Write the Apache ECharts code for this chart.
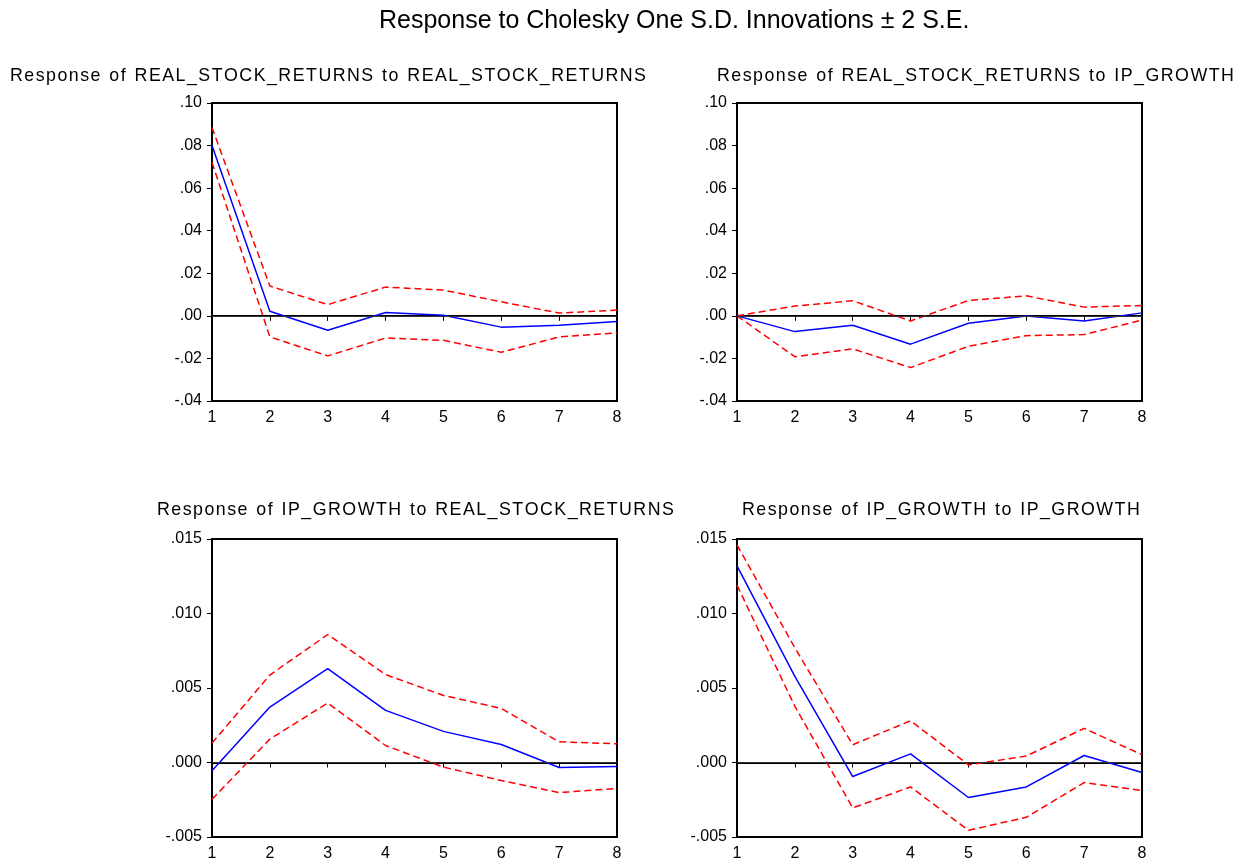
<!DOCTYPE html>
<html>
<head>
<meta charset="utf-8">
<title>Impulse responses</title>
<script src="https://cdn.jsdelivr.net/npm/echarts@6/dist/echarts.min.js"></script>
<style>
  html, body { margin: 0; padding: 0; background: #fff; }
  #chart { width: 1246px; height: 865px; }
</style>
</head>
<body>
<div id="chart"></div>
<script>
// Forecast horizon (periods)
const periods = ['1', '2', '3', '4', '5', '6', '7', '8'];

// Response of REAL_STOCK_RETURNS to REAL_STOCK_RETURNS
const stockToStock      = [0.0800, 0.0022, -0.0068, 0.0016, 0.0003, -0.0053, -0.0044, -0.0027];
const stockToStockUpper = [0.0885, 0.0140, 0.0053, 0.0135, 0.0121, 0.0066, 0.0013, 0.0027];
const stockToStockLower = [0.0721, -0.0099, -0.0188, -0.0104, -0.0115, -0.0171, -0.0099, -0.0080];

// Response of REAL_STOCK_RETURNS to IP_GROWTH
const stockToIp      = [0.0000, -0.0074, -0.0044, -0.0133, -0.0035, -0.0001, -0.0024, 0.0014];
const stockToIpUpper = [0.0000, 0.0046, 0.0071, -0.0024, 0.0072, 0.0094, 0.0041, 0.0049];
const stockToIpLower = [0.0000, -0.0192, -0.0155, -0.0243, -0.0143, -0.0093, -0.0088, -0.0020];

// Response of IP_GROWTH to REAL_STOCK_RETURNS
const ipToStock      = [-0.00056, 0.00372, 0.00630, 0.00350, 0.00209, 0.00121, -0.00034, -0.00027];
const ipToStockUpper = [0.00130, 0.00587, 0.00859, 0.00590, 0.00450, 0.00363, 0.00139, 0.00126];
const ipToStockLower = [-0.00247, 0.00157, 0.00399, 0.00114, -0.00031, -0.00121, -0.00202, -0.00175];

// Response of IP_GROWTH to IP_GROWTH
const ipToIp      = [0.01320, 0.00578, -0.00094, 0.00058, -0.00235, -0.00164, 0.00047, -0.00067];
const ipToIpUpper = [0.01460, 0.00770, 0.00119, 0.00280, -0.00016, 0.00043, 0.00229, 0.00052];
const ipToIpLower = [0.01190, 0.00377, -0.00305, -0.00164, -0.00455, -0.00368, -0.00135, -0.00188];

const mainTitle = 'Response to Cholesky One S.D. Innovations \u00B1 2 S.E.';
const panelTitles = [
  'Response of REAL_STOCK_RETURNS to REAL_STOCK_RETURNS',
  'Response of REAL_STOCK_RETURNS to IP_GROWTH',
  'Response of IP_GROWTH to REAL_STOCK_RETURNS',
  'Response of IP_GROWTH to IP_GROWTH'
];

const FONT = '"Liberation Sans", Arial, sans-serif';

// Panel layout: grid boxes and title anchors
const panels = [
  { grid: { left: 212, top: 103, width: 405, height: 298 }, titleX: 5,   titleY: 62,
    data: [stockToStock, stockToStockUpper, stockToStockLower], min: -0.04, max: 0.10, step: 0.02, dec: 2 },
  { grid: { left: 737, top: 103, width: 405, height: 298 }, titleX: 712, titleY: 62,
    data: [stockToIp, stockToIpUpper, stockToIpLower], min: -0.04, max: 0.10, step: 0.02, dec: 2 },
  { grid: { left: 212, top: 539, width: 405, height: 298 }, titleX: 152, titleY: 496,
    data: [ipToStock, ipToStockUpper, ipToStockLower], min: -0.005, max: 0.015, step: 0.005, dec: 3 },
  { grid: { left: 737, top: 539, width: 405, height: 298 }, titleX: 737, titleY: 496,
    data: [ipToIp, ipToIpUpper, ipToIpLower], min: -0.005, max: 0.015, step: 0.005, dec: 3 }
];

// Format ticks without the leading zero: .02, -.04, .005
function fmt(v, dec) {
  let s = Math.abs(v) < 1e-12 ? (0).toFixed(dec) : v.toFixed(dec);
  return s.replace(/^(-?)0\./, '$1.');
}

// Loosely tracked title text: thin spaces between letters, wider word gaps
function track(s) {
  return s.split(' ').map(w => w.split('').join('\u200A')).join('\u2002');
}

const titles = [{
  text: mainTitle, left: 374, top: 4,
  textStyle: { fontFamily: FONT, fontSize: 25, fontWeight: 'normal', color: '#000' }
}];
const grids = [], xAxes = [], yAxes = [], series = [];

panels.forEach((p, i) => {
  titles.push({
    text: track(panelTitles[i]), left: p.titleX, top: p.titleY,
    textStyle: { fontFamily: FONT, fontSize: 17.8, fontWeight: 'normal', color: '#000' }
  });
  grids.push(Object.assign({ show: true, borderColor: '#000', borderWidth: 2, backgroundColor: '#fff' }, p.grid));
  xAxes.push({
    type: 'category', gridIndex: i, data: periods, boundaryGap: false,
    axisLine: { show: true, lineStyle: { color: '#000', width: 2 } },
    axisTick: { show: true, inside: false, length: 5, alignWithLabel: true, lineStyle: { color: '#000', width: 1 } },
    axisLabel: { fontFamily: FONT, fontSize: 16, color: '#000', margin: 9 },
    splitLine: { show: false }
  });
  yAxes.push({
    type: 'value', gridIndex: i, min: p.min, max: p.max, interval: p.step,
    axisLine: { show: true, lineStyle: { color: '#000', width: 2 } },
    axisTick: { show: true, inside: false, length: 5, lineStyle: { color: '#000', width: 1 } },
    axisLabel: { fontFamily: FONT, fontSize: 16, color: '#000', margin: 10, formatter: v => fmt(v, p.dec) },
    splitLine: { show: false }
  });
  const [resp, upper, lower] = p.data;
  // zero reference line
  series.push({
    type: 'line', xAxisIndex: i, yAxisIndex: i, data: [], silent: true,
    markLine: {
      silent: true, symbol: 'none', label: { show: false },
      lineStyle: { color: '#333', width: 1, type: 'solid' },
      data: [{ yAxis: 0 }]
    }
  });
  [upper, lower].forEach(band => {
    series.push({
      type: 'line', xAxisIndex: i, yAxisIndex: i, data: band,
      symbol: 'none', silent: true,
      lineStyle: { color: '#ff0000', width: 1.5, type: [7, 4] }
    });
  });
  series.push({
    type: 'line', xAxisIndex: i, yAxisIndex: i, data: resp,
    symbol: 'none', silent: true,
    lineStyle: { color: '#0000ff', width: 1.5 }
  });
});

const chart = echarts.init(document.getElementById('chart'), null, { renderer: 'canvas' });
chart.setOption({
  animation: false,
  backgroundColor: '#fff',
  title: titles,
  grid: grids,
  xAxis: xAxes,
  yAxis: yAxes,
  series: series
});
</script>
</body>
</html>
